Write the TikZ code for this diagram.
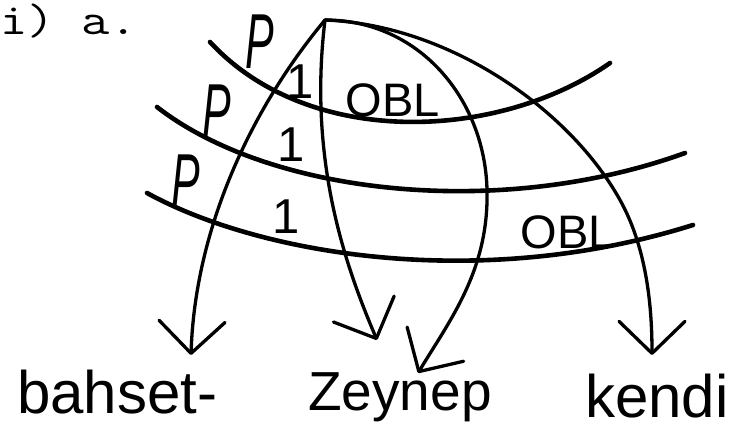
\documentclass[tikz,border=0pt]{standalone}
\usepackage{fontspec}
\setsansfont{Liberation Sans}
\usetikzlibrary{arrows.meta}
\begin{document}
\begin{tikzpicture}[x=1pt,y=-1pt,
  stratum/.style={line width=4.6pt, line cap=round},
  relarc/.style={line width=3.3pt, line cap=round, line join=round,
    -{Straight Barb[length=32pt,width=66pt,round]}},
  plabel/.style={inner sep=0pt, font=\sffamily\itshape\fontsize{78}{78}\selectfont},
  onelabel/.style={inner sep=0pt, font=\sffamily\fontsize{49}{49}\selectfont},
  obllabel/.style={inner sep=0pt, font=\sffamily\fontsize{47}{47}\selectfont},
  wordlabel/.style={inner sep=0pt, anchor=base west},
  numlabel/.style={inner sep=0pt, anchor=base west, font=\ttfamily\fontsize{44}{44}\selectfont}
]
\useasboundingbox (0,0) rectangle (736,435);

% example number
\node[numlabel] (ex) at (0,35) {\scalebox{1.2}[1]{i)}};
\node[numlabel] (exa) at (81,35) {\scalebox{1.25}[1]{a.}};

% top node
\coordinate (top) at (325,20);

% strata
\coordinate (s1a) at (210,42);  \coordinate (s1b) at (610,63);
\coordinate (s2a) at (157,107); \coordinate (s2b) at (685,153);
\coordinate (s3a) at (147,193); \coordinate (s3b) at (693,225);
\draw[stratum] (s1a) .. controls (310,150) and (500,140) .. (s1b);
\draw[stratum] (s2a) .. controls (270,195) and (500,220) .. (s2b);
\draw[stratum] (s3a) .. controls (260,255) and (480,292) .. (s3b);

% arrow tips
\coordinate (tipA) at (191,355);
\coordinate (tipB) at (377,340);
\coordinate (tipC) at (418,373);
\coordinate (tipD) at (652,355);

% arcs
\draw[relarc] (top) .. controls (250,110) and (195,230) .. (tipA);
\draw[relarc] (top) .. controls (308,160) and (345,265) .. (tipB);
\draw[relarc] (top) .. controls (420,20) and (485,100) .. (487,190)
  .. controls (489,270) and (450,320) .. (tipC);
\draw[relarc] (top) .. controls (450,25) and (570,110) .. (620,200)
  .. controls (645,245) and (652,300) .. (tipD);

% relation labels
\node[plabel] (p1) at (260,42) {\scalebox{0.55}[1]{P}};
\node[plabel] (p2) at (217,112) {\scalebox{0.55}[1]{P}};
\node[plabel] (p3) at (186,182) {\scalebox{0.55}[1]{P}};
\node[onelabel] (o1) at (300,82) {1};
\node[onelabel] (o2) at (291,145) {1};
\node[onelabel] (o3) at (286,217) {1};
\node[obllabel] (obl1) at (393,100) {OBL};
\node[obllabel] (obl2) at (568,232) {OBL};

% words
\node[wordlabel, font=\sffamily\fontsize{60}{60}\selectfont] (w1) at (17,413) {bahset-};
\node[wordlabel, font=\sffamily\fontsize{55}{55}\selectfont] (w2) at (308,410) {Zeynep};
\node[wordlabel, font=\sffamily\fontsize{60}{60}\selectfont] (w3) at (585,417) {kendi};
\end{tikzpicture}
\end{document}
